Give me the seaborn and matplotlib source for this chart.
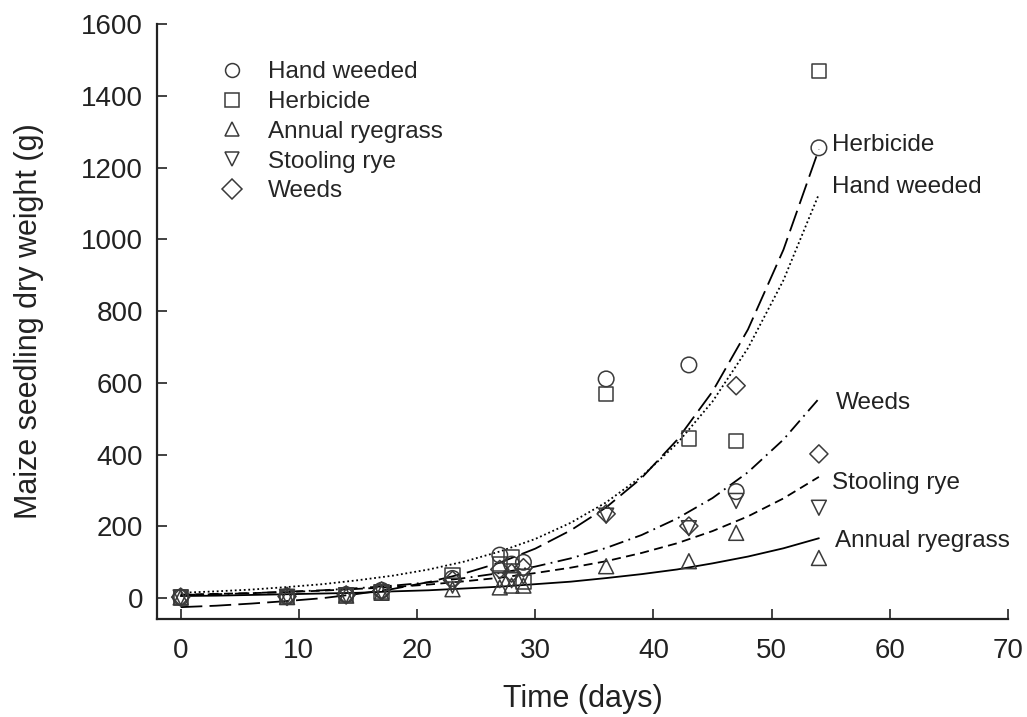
import matplotlib
matplotlib.use("Agg")
import matplotlib.pyplot as plt
from matplotlib.lines import Line2D
import numpy as np
import pandas as pd
import seaborn as sns

# ── Observed dry weights (g) ──────────────────────────────────────────────────
DAYS = [0, 9, 14, 17, 23, 27, 28, 29, 36, 43, 47, 54]
HAND_WEEDED     = [3, 5, 10, 22, 55, 120, 95, 100, 611, 650, 297, 1255]
HERBICIDE       = [2, 4, 8, 18, 65, 95, 115, 45, 570, 445, 438, 1470]
ANNUAL_RYEGRASS = [2, 3, 7, 15, 25, 30, 35, 35, 89, 103, 182, 112]
STOOLING_RYE    = [2, 4, 8, 16, 35, 50, 50, 60, 230, 195, 271, 252]
WEEDS           = [3, 5, 9, 20, 50, 80, 70, 85, 235, 201, 592, 402]

# ── Fitted curves, every 3 days ──────────────────────────────────────────────
FIT_DAYS = [0, 3, 6, 9, 12, 15, 18, 21, 24, 27, 30, 33, 36, 39, 42, 45, 48, 51, 54]
FIT_HAND_WEEDED = [15, 19, 24, 31, 39, 50, 63, 80, 102, 130, 165, 210, 267,
                   339, 431, 548, 697, 886, 1126]
FIT_HERBICIDE   = [-25, -21, -15, -8, 0, 12, 26, 45, 69, 99, 138, 189, 253,
                   335, 441, 576, 749, 971, 1251]
FIT_WEEDS       = [9, 11, 14, 18, 22, 28, 35, 44, 56, 70, 88, 111, 140,
                   176, 222, 279, 351, 442, 556]
FIT_STOOLING    = [10, 12, 14, 17, 21, 26, 31, 38, 47, 57, 70, 85, 103,
                   126, 153, 187, 228, 278, 338]
FIT_ANNUAL      = [6, 7, 9, 11, 13, 15, 19, 22, 27, 32, 39, 46, 56,
                   67, 80, 97, 116, 139, 167]

TREATMENTS = ["Hand weeded", "Herbicide", "Annual ryegrass", "Stooling rye", "Weeds"]
MARKERS = {"Hand weeded": "o", "Herbicide": "s", "Annual ryegrass": "^",
           "Stooling rye": "v", "Weeds": "D"}
MARKER_SIZE = {"Hand weeded": 125, "Herbicide": 105, "Annual ryegrass": 115,
               "Stooling rye": 115, "Weeds": 85}
DASHES = {"Hand weeded": (1, 1.5), "Herbicide": (12, 4), "Weeds": (8, 3, 1, 3),
          "Stooling rye": (5, 3), "Annual ryegrass": ""}

EDGE = "#3a3a3a"
INK = "#222222"

obs = pd.DataFrame({
    "day": DAYS * 5,
    "weight": HAND_WEEDED + HERBICIDE + ANNUAL_RYEGRASS + STOOLING_RYE + WEEDS,
    "treatment": np.repeat(TREATMENTS, len(DAYS)),
})
fits = pd.DataFrame({
    "day": FIT_DAYS * 5,
    "weight": FIT_HAND_WEEDED + FIT_HERBICIDE + FIT_ANNUAL + FIT_STOOLING + FIT_WEEDS,
    "treatment": np.repeat(TREATMENTS, len(FIT_DAYS)),
})

sns.set_style("ticks")
plt.rcParams["font.family"] = ["Liberation Sans", "DejaVu Sans"]

fig = plt.figure(figsize=(10.27, 7.17), dpi=100)
ax = fig.add_axes([0.1529, 0.1367, 0.8286, 0.8298])

sns.lineplot(data=fits, x="day", y="weight", hue="treatment", style="treatment",
             palette={t: "black" for t in TREATMENTS}, dashes=DASHES,
             linewidth=1.3, legend=False, ax=ax)

for t in TREATMENTS:
    sub = obs[obs["treatment"] == t]
    sns.scatterplot(x=sub["day"], y=sub["weight"], marker=MARKERS[t],
                    s=MARKER_SIZE[t], facecolor="none", edgecolor=EDGE,
                    linewidth=1.1, ax=ax, zorder=3)

# curve labels at the right-hand end
curve_labels = [("Herbicide", 55.1, 1263), ("Hand weeded", 55.1, 1145),
                ("Weeds", 55.4, 545), ("Stooling rye", 55.1, 321),
                ("Annual ryegrass", 55.4, 159)]
for txt, x, y in curve_labels:
    ax.text(x, y, txt, fontsize=17.5, ha="left", va="center", color=INK)

handles = [Line2D([], [], linestyle="none", marker=MARKERS[t], markersize=10,
                  markerfacecolor="none", markeredgecolor=EDGE, markeredgewidth=1.1)
           for t in TREATMENTS]
ax.legend(handles, TREATMENTS, loc="upper left", bbox_to_anchor=(0.04, 0.966),
          frameon=False, fontsize=17.5, handletextpad=0.45, labelspacing=0.32,
          borderaxespad=0.3)

ax.set_xlim(-2, 70)
ax.set_ylim(-58, 1600)
ax.set_xticks(range(0, 71, 10))
ax.set_yticks(range(0, 1601, 200))
ax.tick_params(direction="in", length=7, width=1.2, labelsize=20, colors=INK)
ax.tick_params(axis="y", pad=10)
ax.tick_params(axis="x", pad=14)
for side in ("left", "bottom"):
    ax.spines[side].set_linewidth(1.6)
    ax.spines[side].set_color(INK)
sns.despine(ax=ax)

ax.set_xlabel("Time (days)", fontsize=22, labelpad=14, color=INK)
ax.set_ylabel("Maize seedling dry weight (g)", fontsize=22, labelpad=27, color=INK)

fig.savefig("out.png", dpi=100, facecolor="white")
